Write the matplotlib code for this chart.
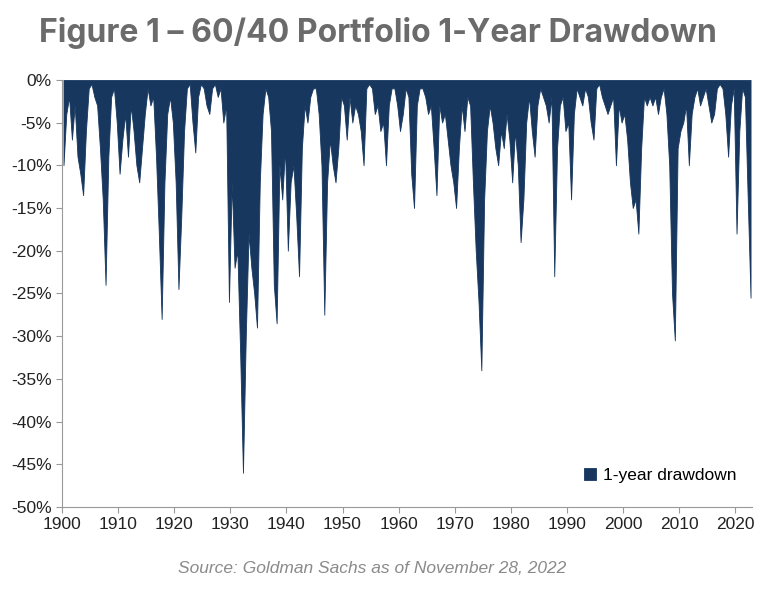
import matplotlib
matplotlib.use("Agg")
import matplotlib.pyplot as plt
import numpy as np

years = list(range(1900, 2023))
drawdown = [
 -10,-4, -2,-7, -3,-9, -11,-13.5, -6,-1, -0.5,-2, -3,-8, -14,-24, -9,-2, -1,-5,
 -11,-7, -4,-9, -3,-6, -10,-12, -8,-4, -1,-3, -2,-9, -18,-28, -12,-4, -2,-5,
 -12,-24.5, -16,-6, -1,-0.5, -5,-8.5, -2,-0.5, -1,-3, -4,-1, -0.5,-2, -1,-5, -3,-26,
 -12,-22, -20,-32, -46,-30, -18,-22, -25,-29, -12,-4, -1,-2, -6,-24, -28.5,-10, -14,-8,
 -20,-12, -10,-16, -23,-8, -3,-5, -2,-1, -1,-4, -10,-27.5, -12,-7, -10,-12, -8,-2,
 -3,-7, -2,-5, -3,-4, -6,-10, -1,-0.5, -1,-4, -3,-6, -5,-10, -3,-1, -1,-3,
 -6,-4, -1,-2, -11,-15, -3,-1, -1,-2, -4,-3, -8,-13.5, -3,-5, -4,-7, -10,-12,
 -15,-8, -3,-6, -2,-3, -12,-20, -26,-34, -14,-6, -3,-5, -8,-10, -6,-8, -4,-7,
 -12,-6, -10,-19, -14,-5, -2,-6, -9,-3, -1,-2, -3,-5, -2,-23, -8,-3, -2,-6,
 -5,-14, -4,-1, -2,-3, -1,-2, -5,-7, -1,-0.5, -2,-3, -4,-3, -2,-10, -3,-5,
 -4,-7, -12,-15, -14,-18, -8,-2, -3,-2, -3,-2, -4,-2, -1,-4, -10,-25, -30.5,-8,
 -6,-5, -3,-10, -4,-2, -1,-3, -2,-1, -3,-5, -4,-1, -0.5,-1, -4,-9, -3,-1,
 -18,-6, -1,-2, -14,-25.5,
]
x = np.array([y + h for y in years for h in (0.25, 0.75)])
v = np.array(drawdown)

plt.rcParams['font.family'] = ['Liberation Sans', 'DejaVu Sans']
navy = "#17375e"
fig = plt.figure(figsize=(7.76, 6), dpi=100)
ax = fig.add_axes([0.08, 0.155, 0.889, 0.712])
ax.fill_between(x, v, 0, color=navy, lw=0.6, edgecolor=navy, label="1-year drawdown")
ax.set_xlim(1900, 2023)
ax.set_ylim(-50, 0)
ax.set_xticks(range(1900, 2021, 10))
ax.set_yticks(range(-50, 1, 5))
ax.set_yticklabels([f"{t}%" for t in range(-50, 1, 5)])
ax.tick_params(labelsize=12.5, colors="#222222", length=4, color="#999999")
for s in ("top", "right"):
    ax.spines[s].set_visible(False)
for s in ("left", "bottom"):
    ax.spines[s].set_color("#999999")
leg = ax.legend(loc="lower right", frameon=False, fontsize=12.5, handlelength=0.7,
                handleheight=0.7, handletextpad=0.4, bbox_to_anchor=(1.0, 0.02))
fig.text(0.05, 0.945, "Figure 1 \u2013 60/40 Portfolio 1-Year Drawdown", fontsize=23,
         fontweight="bold", color="#6b6b6b", va="center", family=["Inter", "DejaVu Sans"])
fig.text(0.48, 0.045, "Source: Goldman Sachs as of November 28, 2022", fontsize=12.5,
         style="italic", color="#8a8a8a", ha="center")
fig.savefig("out.png")
